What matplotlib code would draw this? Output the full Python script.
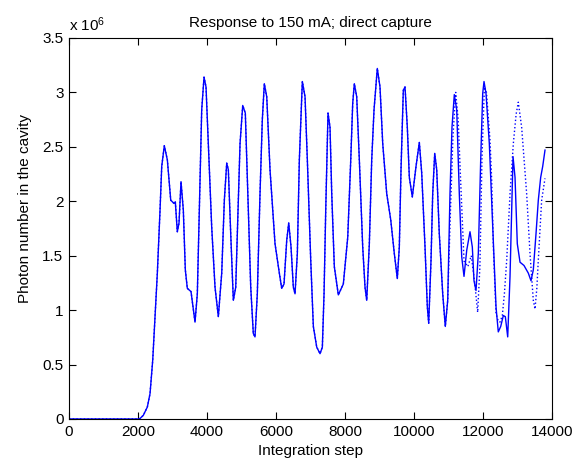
import matplotlib
matplotlib.use('Agg')
import matplotlib.pyplot as plt
import numpy as np
from matplotlib.ticker import FuncFormatter

plt.rcParams['font.family'] = ['Liberation Sans', 'DejaVu Sans']
plt.rcParams['mathtext.fontset'] = 'custom'
plt.rcParams['mathtext.rm'] = 'Liberation Sans'
plt.rcParams['mathtext.it'] = 'Liberation Sans:italic'

# solid curve (integration step, photons / 1e6)
step = [0, 2009, 2060, 2154, 2270, 2348, 2426, 2493, 2560, 2638, 2687, 2762,
        2850, 2948, 3044, 3081, 3139, 3188, 3246, 3313, 3371, 3429, 3536, 3652,
        3719, 3777, 3846, 3913, 3971, 4038, 4136, 4232, 4328, 4426, 4502, 4571,
        4618, 4687, 4763, 4832, 4890, 4957, 5035, 5110, 5197, 5267, 5342, 5391,
        5458, 5536, 5603, 5661, 5731, 5826, 5971, 6096, 6165, 6232, 6310, 6368,
        6435, 6502, 6551, 6618, 6676, 6763, 6841, 6908, 7006, 7082, 7180, 7276,
        7343, 7392, 7441, 7507, 7565, 7615, 7690, 7806, 7951, 8079, 8166, 8223,
        8270, 8339, 8415, 8513, 8580, 8629, 8705, 8774, 8841, 8936, 9014, 9093,
        9209, 9325, 9429, 9516, 9574, 9623, 9690, 9739, 9806, 9864, 9951, 10058,
        10154, 10223, 10319, 10386, 10426, 10493, 10542, 10600, 10658, 10733,
        10832, 10907, 10977, 11043, 11101, 11168, 11238, 11313, 11383, 11449,
        11528, 11623, 11690, 11739, 11797, 11864, 11933, 11991, 12029, 12087,
        12183, 12281, 12377, 12443, 12513, 12589, 12647, 12716, 12783, 12832,
        12870, 12928, 12994, 13073, 13188, 13313, 13391, 13458, 13536, 13603,
        13672, 13730, 13797]
photons = [0, 0, 0.005, 0.034, 0.11, 0.233, 0.54, 0.94, 1.34, 1.92, 2.32, 2.51,
           2.38, 2.01, 1.98, 1.995, 1.72, 1.80, 2.18, 1.92, 1.37, 1.20, 1.17, 0.89,
           1.15, 1.92, 2.84, 3.14, 3.05, 2.53, 1.76, 1.21, 0.94, 1.34, 2.01, 2.35,
           2.29, 1.70, 1.09, 1.21, 1.83, 2.53, 2.88, 2.81, 1.92, 1.21, 0.785, 0.754,
           1.15, 2.07, 2.75, 3.08, 2.96, 2.29, 1.61, 1.34, 1.20, 1.24, 1.64, 1.80,
           1.58, 1.21, 1.15, 1.52, 2.38, 3.10, 2.96, 2.38, 1.46, 0.85, 0.66, 0.60,
           0.66, 1.15, 1.92, 2.81, 2.68, 2.07, 1.40, 1.14, 1.24, 1.67, 2.38, 2.90,
           3.08, 2.96, 2.38, 1.58, 1.21, 1.09, 1.61, 2.38, 2.84, 3.22, 3.05, 2.53,
           2.07, 1.83, 1.52, 1.29, 1.58, 2.29, 3.02, 3.05, 2.68, 2.22, 2.04, 2.32,
           2.54, 2.26, 1.58, 1.03, 0.88, 1.46, 2.07, 2.44, 2.29, 1.70,
           1.15, 0.85, 1.09, 2.07, 2.68, 2.98, 2.84, 2.07, 1.49, 1.31,
           1.55, 1.72, 1.58, 1.27, 1.18, 1.52, 2.38, 2.99, 3.10, 2.99,
           2.53, 1.76, 1.03, 0.80, 0.85, 0.95, 0.94, 0.754, 1.31, 1.92,
           2.41, 2.22, 1.61, 1.44, 1.41, 1.34, 1.27, 1.37, 1.70, 2.01,
           2.22, 2.32, 2.47]

# dotted curve: same as solid up to ~11000, then it separates
dot_step = [11060, 11130, 11208, 11280, 11350, 11450, 11560, 11660, 11760,
            11845, 11910, 11970, 12040, 12100, 12203, 12252, 12300, 12377,
            12440, 12493, 12560, 12620, 12687, 12783, 12879, 12960, 13023,
            13120, 13265, 13362, 13458, 13507, 13560, 13603, 13700, 13797]
dot_photons = [1.95, 2.60, 3.00, 2.75, 2.20, 1.45, 1.40, 1.50, 1.25,
               0.98, 1.40, 2.40, 3.05, 3.00, 2.56, 2.19, 1.58, 0.97,
               0.90, 0.89, 0.95, 1.15, 1.46, 2.07, 2.53, 2.80, 2.91,
               2.68, 2.07, 1.52, 1.09, 1.01, 1.20, 1.46, 2.01, 2.21]

step = np.array(step)
photons = np.array(photons) * 1e6
keep = step < 11000
dot_x = np.concatenate([step[keep], dot_step])
dot_y = np.concatenate([photons[keep], np.array(dot_photons) * 1e6])

fig = plt.figure(figsize=(5.85, 4.66), dpi=100)
ax = fig.add_axes([0.118, 0.1009, 0.8256, 0.8176])

ax.plot(dot_x, dot_y, ':', color='blue', linewidth=1)
ax.plot(step, photons, '-', color='blue', linewidth=1)

ax.set_xlim(0, 14000)
ax.set_ylim(0, 3.5e6)
ax.set_xticks(np.arange(0, 14001, 2000))
ax.set_yticks(np.arange(0, 3.51e6, 0.5e6))
ax.yaxis.set_major_formatter(FuncFormatter(lambda v, p: f'{v / 1e6:g}'))
ax.tick_params(direction='in', top=True, right=True, length=5, width=0.8,
               labelsize=11, pad=4)
for s in ax.spines.values():
    s.set_linewidth(0.8)

ax.annotate('x 10$^{6}$', xy=(0, 1), xycoords='axes fraction',
            xytext=(0, 5), textcoords='offset points', ha='left', va='baseline',
            fontsize=11)

ax.set_title('Response to 150 mA; direct capture', fontsize=11, pad=8)
ax.set_xlabel('Integration step', fontsize=11)
ax.set_ylabel('Photon number in the cavity', fontsize=11)
ax.yaxis.set_label_coords(-0.077, 0.553)

fig.savefig('out.png', dpi=100)
